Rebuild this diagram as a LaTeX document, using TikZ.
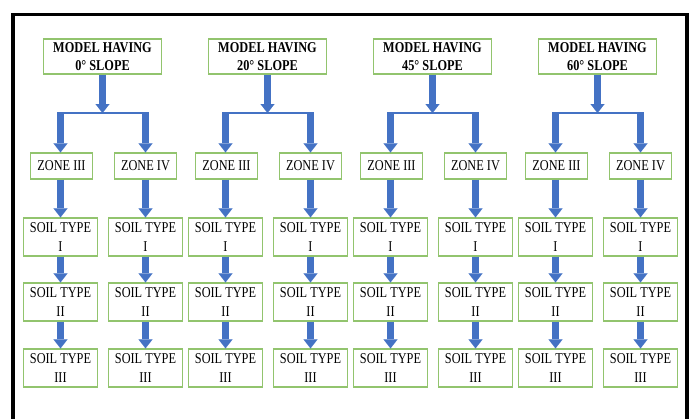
\documentclass[tikz,border=0pt]{standalone}
\usepackage{fontspec}
\setmainfont{Liberation Serif}[FakeStretch=0.82]
\usetikzlibrary{arrows.meta}
\definecolor{arrblue}{HTML}{4472C4}
\definecolor{boxgreen}{HTML}{92C46E}
\begin{document}
\begin{tikzpicture}[x=1pt,y=-1pt,
  box/.style={draw=boxgreen, line width=1.3pt, fill=white, inner sep=0pt, align=center,
    font=\fontsize{15}{18.5}\selectfont},
  modelbox/.style={box, minimum width=118pt, minimum height=35pt,
    font=\bfseries\fontsize{15}{18.5}\selectfont},
  zonebox/.style={box, minimum width=62pt, minimum height=26pt},
  soilbox/.style={box, minimum width=74pt, minimum height=38pt},
  flow/.style={draw=arrblue, line width=7pt,
    -{Triangle[width=14pt,length=9pt,line width=0.01pt]}},
  barline/.style={draw=arrblue, line width=2pt}]
\useasboundingbox (0,0) rectangle (690,418);
\begin{scope}
  \clip (0,0) rectangle (690,418);
  \draw[line width=3.5pt] (13,430) -- (13,14.5) -- (687,14.5) -- (687,430);
\end{scope}
\foreach \g/\ang in {0/0,1/20,2/45,3/60}{
  \pgfmathsetmacro\ox{165*\g}
  \node[modelbox] (m\g) at ({102.5+\ox},56.5) {MODEL HAVING\\\ang° SLOPE};
  \coordinate (b\g) at ({102.5+\ox},113);
  \coordinate (bL\g) at ({57+\ox},113);
  \coordinate (bR\g) at ({149+\ox},113);
  \coordinate (cL\g) at ({60.5+\ox},112);
  \coordinate (cR\g) at ({145.5+\ox},112);
  \node[zonebox] (zA\g) at ({61.5+\ox},166) {ZONE III};
  \node[zonebox] (zB\g) at ({145.5+\ox},166) {ZONE IV};
  \node[soilbox] (sA1\g) at ({60.5+\ox},237) {SOIL TYPE\\I};
  \node[soilbox] (sB1\g) at ({145.5+\ox},237) {SOIL TYPE\\I};
  \node[soilbox] (sA2\g) at ({60.5+\ox},302) {SOIL TYPE\\II};
  \node[soilbox] (sB2\g) at ({145.5+\ox},302) {SOIL TYPE\\II};
  \node[soilbox] (sA3\g) at ({60.5+\ox},368) {SOIL TYPE\\III};
  \node[soilbox] (sB3\g) at ({145.5+\ox},368) {SOIL TYPE\\III};
  \draw[barline] (bL\g) -- (bR\g);
  \draw[flow] (m\g.south) -- (b\g);
  \draw[flow] (cL\g) -- (cL\g |- zA\g.north);
  \draw[flow] (cR\g) -- (zB\g.north);
  \draw[flow] (cL\g |- zA\g.south) -- (sA1\g.north);
  \draw[flow] (zB\g.south) -- (sB1\g.north);
  \draw[flow] (sA1\g.south) -- (sA2\g.north);
  \draw[flow] (sB1\g.south) -- (sB2\g.north);
  \draw[flow] (sA2\g.south) -- (sA3\g.north);
  \draw[flow] (sB2\g.south) -- (sB3\g.north);
}
\end{tikzpicture}
\end{document}
